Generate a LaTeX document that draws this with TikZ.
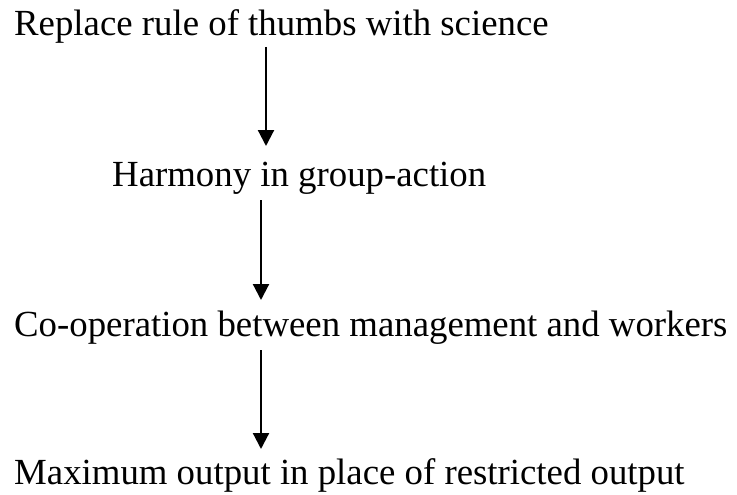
\documentclass[tikz,border=0pt]{standalone}
\usepackage{fontspec}
\setmainfont{Liberation Serif}
\usetikzlibrary{arrows.meta}
\begin{document}
\begin{tikzpicture}[x=1pt,y=-1pt,
  stage/.style={anchor=base west,inner sep=0pt,font=\fontsize{36.8}{44}\selectfont},
  flow/.style={line width=2.2pt,-{Triangle[length=16pt,width=16pt]}}]
\useasboundingbox (0,0) rectangle (737,495);
\node[stage] (s1) at (14,36) {Replace rule of thumbs with science};
\node[stage] (s2) at (112,186) {Harmony in group-action};
\node[stage] (s3) at (14,336) {Co-operation between management and workers};
\node[stage] (s4) at (14,484) {Maximum output in place of restricted output};
\coordinate (a1) at (266,47);  \coordinate (b1) at (266,146);
\coordinate (a2) at (261,200); \coordinate (b2) at (261,300);
\coordinate (a3) at (261,350); \coordinate (b3) at (261,449);
\draw[flow] (a1) -- (b1);
\draw[flow] (a2) -- (b2);
\draw[flow] (a3) -- (b3);
\end{tikzpicture}
\end{document}
